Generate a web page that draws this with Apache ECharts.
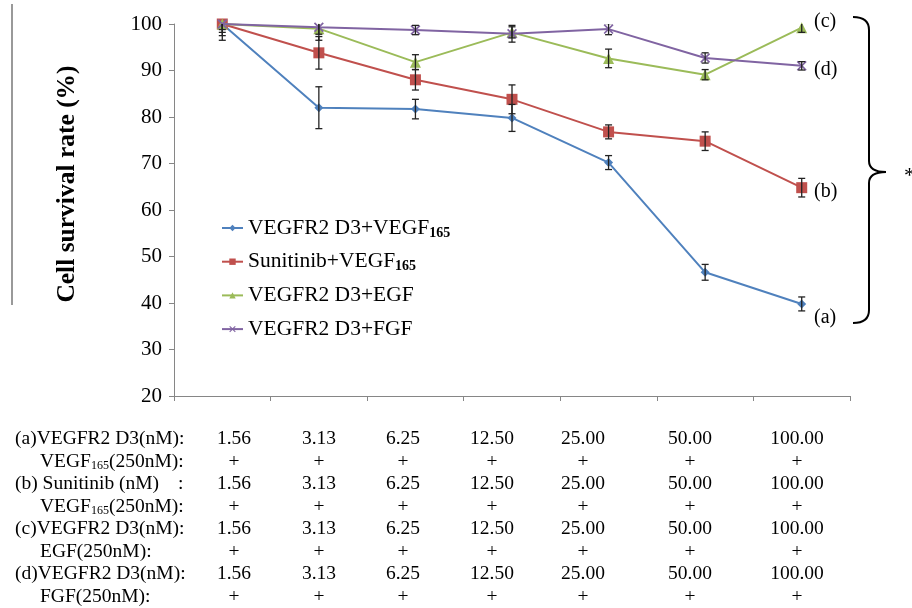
<!DOCTYPE html>
<html>
<head>
<meta charset="utf-8">
<script src="https://cdn.jsdelivr.net/npm/echarts@6/dist/echarts.min.js"></script>
<style>html,body{margin:0;padding:0;background:#fff}#c{width:912px;height:608px}</style>
</head>
<body>
<div id="c"></div>
<script>
// ---- data ----
var categories = ['1.56', '3.13', '6.25', '12.50', '25.00', '50.00', '100.00'];
var seriesNames = ['VEGFR2 D3+VEGF165', 'Sunitinib+VEGF165', 'VEGFR2 D3+EGF', 'VEGFR2 D3+FGF'];
var vegfr2Vegf = [100, 82, 81.7, 79.8, 70.2, 46.6, 39.8];
var vegfr2VegfErr = [3.5, 4.5, 2.1, 2.9, 1.5, 1.7, 1.5];
var sunitinibVegf = [100, 93.8, 88, 83.8, 76.8, 74.8, 64.8];
var sunitinibVegfErr = [2.5, 3.5, 2.2, 3.1, 1.5, 2, 2];
var vegfr2Egf = [100, 99, 91.8, 98.2, 92.6, 89.1, 99.2];
var vegfr2EgfErr = [1.8, 2.5, 1.6, 1.2, 2, 1.1, 1];
var vegfr2Fgf = [100, 99.3, 98.7, 97.9, 98.9, 92.7, 91];
var vegfr2FgfErr = [1.2, 1.5, 1, 1.8, 1.2, 1.1, 0.9];
var yTicks = [20, 30, 40, 50, 60, 70, 80, 90, 100];
var groupLabels = ['(a)', '(b)', '(c)', '(d)'];
var rowLabels = [
  ['(a)VEGFR2 D3(nM):', 'VEGF{s|165}(250nM):'],
  ['(b) Sunitinib (nM)', 'VEGF{s|165}(250nM):'],
  ['(c)VEGFR2 D3(nM):', 'EGF(250nM):'],
  ['(d)VEGFR2 D3(nM):', 'FGF(250nM):']
];
var plusMark = '+';
var yAxisTitle = 'Cell survival rate (%)';
var significance = '*';

// ---- layout / style ----
var SERIF = '"Liberation Serif","DejaVu Serif",serif';
var colors = ['#4F81BD', '#C0504D', '#9BBB59', '#8064A2'];
var xPath = 'path://M0,1.2L1.2,0L5,3.8L8.8,0L10,1.2L6.2,5L10,8.8L8.8,10L5,6.2L1.2,10L0,8.8L3.8,5Z';
var symbols = ['diamond', 'rect', 'triangle', xPath];
var symbolSizes = [9, 11, 11, 10];
var values = [vegfr2Vegf, sunitinibVegf, vegfr2Egf, vegfr2Fgf];
var errs = [vegfr2VegfErr, sunitinibVegfErr, vegfr2EgfErr, vegfr2FgfErr];
var tableCols = [234, 319, 403, 492, 583, 690, 797];
var tableRow0 = 439, tableRowStep = 22.5;
var TFONT = '19.5px ' + SERIF;

var chart = echarts.init(document.getElementById('c'), null, {renderer: 'canvas'});

var series = [];
values.forEach(function (v, i) {
  series.push({
    name: seriesNames[i], type: 'line', data: v,
    symbol: symbols[i], symbolSize: symbolSizes[i],
    lineStyle: {color: colors[i], width: 2},
    itemStyle: {color: colors[i]},
    z: 2 + i
  });
});
values.forEach(function (v, i) {
  series.push({
    name: 'err' + i, type: 'custom', clip: true, z: 10,
    data: v.map(function (y, k) { return [k, y, errs[i][k]]; }),
    renderItem: function (params, api) {
      var x = api.value(0), y = api.value(1), e = api.value(2);
      var hi = api.coord([x, y + e]), lo = api.coord([x, y - e]);
      var w = 3.5;
      var st = {stroke: '#222', lineWidth: 1.3};
      return {type: 'group', children: [
        {type: 'line', shape: {x1: hi[0], y1: hi[1], x2: lo[0], y2: lo[1]}, style: st},
        {type: 'line', shape: {x1: hi[0] - w, y1: hi[1], x2: hi[0] + w, y2: hi[1]}, style: st},
        {type: 'line', shape: {x1: lo[0] - w, y1: lo[1], x2: lo[0] + w, y2: lo[1]}, style: st}
      ]};
    },
    encode: {x: 0, y: 1}
  });
});

var graphics = [];
// left vertical rule
graphics.push({type: 'line', shape: {x1: 12, y1: 4, x2: 12, y2: 305}, style: {stroke: '#777', lineWidth: 1.5}});
// y title
graphics.push({type: 'text', x: 67, y: 184, rotation: Math.PI / 2,
  style: {text: yAxisTitle, font: 'bold 25.5px ' + SERIF, fill: '#000', align: 'center', verticalAlign: 'middle'}});
// table
var richSub = {s: {fontSize: 12, fontFamily: SERIF, fill: '#000', verticalAlign: 'bottom', lineHeight: 15}};
rowLabels.forEach(function (pair, g) {
  var y1 = tableRow0 + tableRowStep * (2 * g);
  var y2 = y1 + tableRowStep;
  graphics.push({type: 'text', x: 15, y: y1, style: {text: pair[0], font: TFONT, fill: '#000', verticalAlign: 'middle'}});
  if (g === 1) graphics.push({type: 'text', x: 178, y: y1, style: {text: ':', font: TFONT, fill: '#000', verticalAlign: 'middle'}});
  graphics.push({type: 'text', x: 40, y: y2, style: {text: pair[1], rich: richSub, font: TFONT, fill: '#000', verticalAlign: 'middle'}});
  categories.forEach(function (c, k) {
    graphics.push({type: 'text', x: tableCols[k], y: y1, style: {text: c, font: TFONT, fill: '#000', align: 'center', verticalAlign: 'middle'}});
    graphics.push({type: 'text', x: tableCols[k], y: y2, style: {text: plusMark, font: TFONT, fill: '#000', align: 'center', verticalAlign: 'middle'}});
  });
});
// right annotations
var annY = [318, 192, 22, 70];
groupLabels.forEach(function (t, i) {
  graphics.push({type: 'text', x: 814, y: annY[i], style: {text: t, font: '20px ' + SERIF, fill: '#000', verticalAlign: 'middle'}});
});
// brace
var bst = {stroke: '#000', lineWidth: 2, fill: null};
graphics.push({type: 'bezierCurve', shape: {x1: 853, y1: 17, cpx1: 869, cpy1: 17, x2: 869, y2: 30}, style: bst});
graphics.push({type: 'line', shape: {x1: 869, y1: 30, x2: 869, y2: 161}, style: bst});
graphics.push({type: 'bezierCurve', shape: {x1: 869, y1: 161, cpx1: 869, cpy1: 172, x2: 886, y2: 172}, style: bst});
graphics.push({type: 'bezierCurve', shape: {x1: 886, y1: 172, cpx1: 869, cpy1: 172, x2: 869, y2: 183}, style: bst});
graphics.push({type: 'line', shape: {x1: 869, y1: 183, x2: 869, y2: 310}, style: bst});
graphics.push({type: 'bezierCurve', shape: {x1: 869, y1: 310, cpx1: 869, cpy1: 323, x2: 853, y2: 323}, style: bst});
graphics.push({type: 'text', x: 904, y: 176, style: {text: significance, font: '22px ' + SERIF, fill: '#000', verticalAlign: 'middle'}});

var legendRich = {
  n: {fontFamily: SERIF, fontSize: 21.5, color: '#000', lineHeight: 24},
  s: {fontFamily: SERIF, fontSize: 14, fontWeight: 'bold', color: '#000', lineHeight: 24, verticalAlign: 'bottom', padding: [7, 0, 0, 0]}
};

chart.setOption({
  animation: false,
  color: colors,
  grid: {left: 174, right: 62, top: 24, bottom: 212},
  xAxis: {
    type: 'category', data: categories, boundaryGap: true,
    axisLine: {lineStyle: {color: '#868686', width: 1}},
    axisTick: {show: true, inside: false, length: 5, lineStyle: {color: '#868686'}},
    axisLabel: {show: false}, splitLine: {show: false}
  },
  yAxis: {
    type: 'value', min: yTicks[0], max: yTicks[yTicks.length - 1], interval: 10,
    axisLine: {show: true, lineStyle: {color: '#868686', width: 1}},
    axisTick: {show: true, inside: false, length: 5, lineStyle: {color: '#868686'}},
    axisLabel: {fontFamily: SERIF, fontSize: 21, color: '#000', margin: 12},
    splitLine: {show: false}
  },
  legend: {
    data: seriesNames, orient: 'vertical', left: 216, top: 211, itemGap: 9.7,
    itemWidth: 21, itemHeight: 8,
    textStyle: {fontFamily: SERIF, fontSize: 21.5, color: '#000', lineHeight: 24, rich: legendRich},
    formatter: function (name) {
      var m = name.match(/^(.*VEGF)(165)$/);
      return m ? '{n|' + m[1] + '}{s|' + m[2] + '}' : '{n|' + name + '}';
    }
  },
  series: series,
  graphic: graphics
});
</script>
</body>
</html>
